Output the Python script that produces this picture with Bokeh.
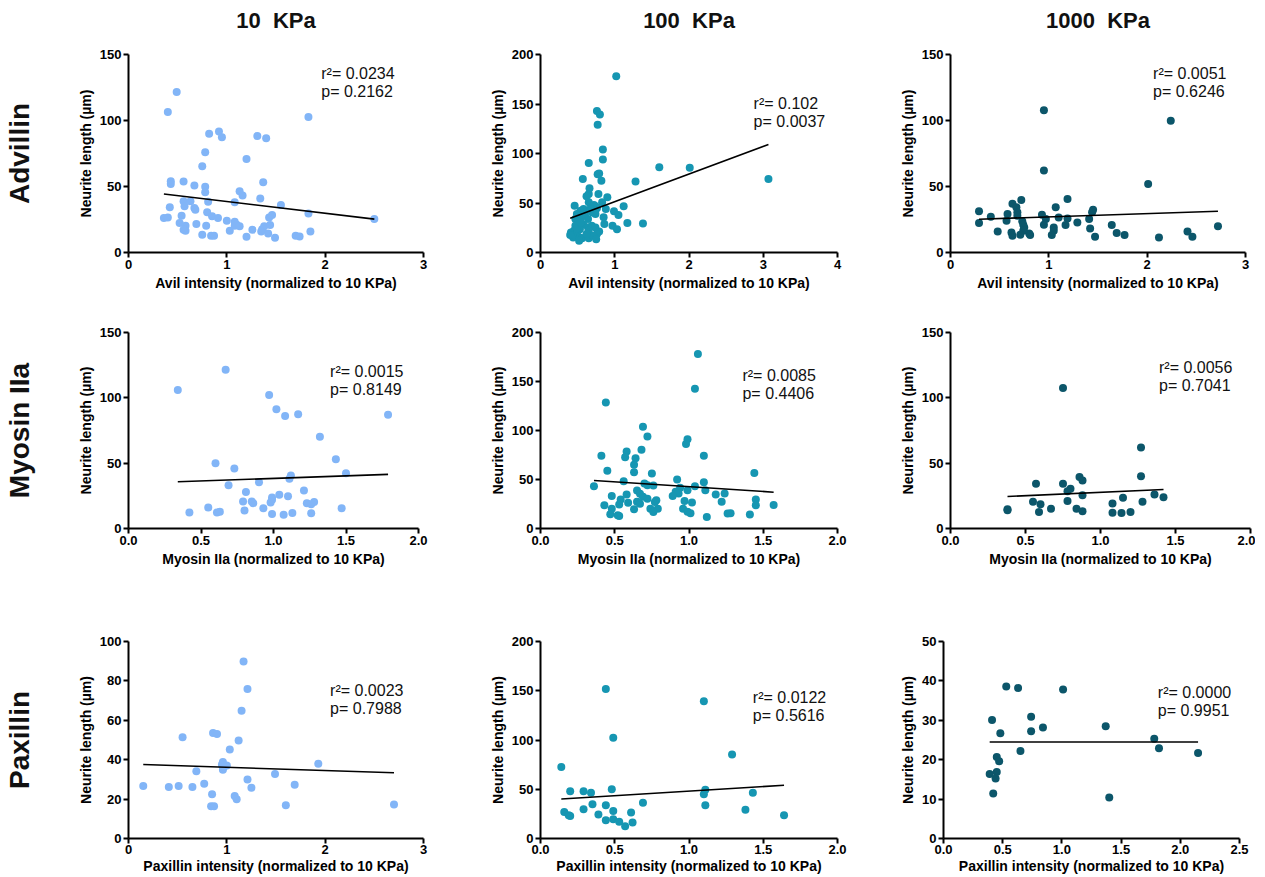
from bokeh.plotting import figure
from bokeh.layouts import column, row
from bokeh.models import Range1d, FixedTicker, PrintfTickFormatter, Label, Title
from bokeh.embed import file_html
from bokeh.resources import INLINE

FONT = "Liberation Sans"

# ---------------- data ----------------
stiffness = ["10\u00a0 KPa", "100\u00a0 KPa", "1000\u00a0 KPa"]
proteins = ["Advillin", "Myosin IIa", "Paxillin"]
x_titles = ["Avil intensity (normalized to 10 KPa)",
            "Myosin IIa (normalized to 10 KPa)",
            "Paxillin intensity (normalized to 10 KPa)"]
y_title = "Neurite length (µm)"
colors = ["#82b5f7", "#1696b2", "#0c566a"]

advillin_10 = [(0.49,121.6),(0.40,106.4),(0.92,91.7),(0.82,89.9),(0.95,87.4),(1.31,88.2),(1.40,86.6),(1.83,102.6),
    (0.78,76.0),(1.20,70.9),(0.75,65.4),(0.43,54.0),(0.43,51.9),(0.56,53.7),(0.67,50.7),(0.78,49.9),(0.78,45.6),
    (1.37,53.2),(1.13,46.4),(1.16,43.1),(1.34,41.0),(0.56,38.8),(0.63,38.8),(0.57,35.0),(0.81,38.5),(1.08,38.0),
    (1.55,36.0),(0.42,34.2),(0.67,33.7),(0.68,32.4),(0.80,30.4),(1.83,29.6),(0.54,27.9),(0.85,27.4),(0.36,26.1),
    (0.40,26.6),(0.91,26.1),(1.43,26.6),(1.46,28.4),(1.00,24.1),(1.08,23.3),(0.52,22.3),(0.69,21.5),(1.10,21.0),
    (1.08,20.3),(1.13,19.8),(0.79,20.3),(0.58,20.3),(1.38,19.8),(1.44,20.8),(1.36,17.7),(1.26,17.2),(1.03,16.5),
    (0.58,16.5),(0.56,17.2),(1.85,16.0),(1.35,16.0),(0.75,13.4),(0.84,12.7),(0.87,12.7),(1.42,14.4),(1.20,11.9),
    (1.49,11.1),(1.70,12.7),(1.74,12.2),(2.50,25.3)]
advillin_100 = [(1.02,178.0),(0.76,142.9),(0.80,139.5),(0.77,129.1),(0.84,104.1),(0.84,93.9),(0.65,90.5),(1.60,86.1),
    (2.01,85.5),(0.79,79.7),(0.77,79.1),(0.57,74.3),(3.07,74.3),(0.82,72.6),(1.28,71.6),(0.66,64.9),(0.65,59.1),
    (0.78,59.1),(0.62,56.8),(0.90,55.7),(0.65,50.7),(0.83,50.7),(0.46,47.3),(0.72,48.0),(0.74,46.6),(1.12,46.6),
    (0.76,44.6),(0.88,43.9),(0.58,43.9),(0.54,42.2),(0.99,41.6),(0.49,38.9),(0.70,40.5),(0.74,38.9),(1.05,37.8),
    (0.55,35.5),(0.47,33.8),(0.85,35.5),(0.64,33.8),(0.51,31.1),(0.86,28.7),(1.17,29.7),(1.38,29.4),(0.58,28.0),
    (0.47,27.0),(0.97,27.0),(0.69,27.0),(0.64,25.3),(0.74,25.3),(0.45,22.0),(0.53,23.6),(1.03,23.6),(0.65,22.0),
    (0.79,21.3),(0.41,20.3),(0.49,19.3),(0.76,18.6),(0.44,15.2),(0.53,15.2),(0.56,14.5),(0.65,14.5),(0.71,16.9),
    (0.52,11.8),(0.75,13.5),(0.62,18.6),(0.49,24.3),(0.54,30.4),(0.60,38.9),(0.67,43.9),(0.40,17.6)]
advillin_1000 = [(0.95,107.7),(2.24,99.8),(0.95,62.1),(2.01,51.9),(0.72,39.8),(1.19,40.5),(0.63,37.0),(0.29,31.2),
    (0.29,22.3),(0.41,27.1),(0.48,16.0),(0.58,29.1),(0.57,24.1),(0.67,34.2),(0.68,30.4),(0.68,27.9),(0.73,23.6),
    (0.74,21.0),(0.75,19.0),(0.74,16.5),(0.62,15.2),(0.63,12.7),(0.71,13.4),(0.80,14.4),(0.81,13.2),(0.93,28.6),
    (0.97,25.3),(0.95,21.0),(1.07,34.2),(1.10,26.6),(1.05,19.0),(1.05,16.5),(1.03,13.2),(1.19,25.8),(1.17,20.8),
    (1.29,22.8),(1.45,32.4),(1.44,30.4),(1.41,25.3),(1.42,18.2),(1.47,11.9),(1.64,20.8),(1.69,14.7),(1.77,13.2),
    (2.12,11.4),(2.41,16.0),(2.46,11.9),(2.72,19.8)]
myosin_10 = [(0.67,121.5),(0.34,106.0),(0.97,102.1),(1.02,91.3),(1.17,87.4),(1.08,86.1),(1.79,87.1),(1.32,70.3),
    (1.43,53.0),(0.60,49.9),(0.73,46.0),(1.50,42.2),(1.12,40.6),(1.11,38.0),(0.90,35.4),(0.69,33.1),(0.81,27.9),
    (1.21,29.0),(1.04,25.9),(1.10,24.6),(0.99,23.8),(0.99,22.0),(0.79,20.7),(0.85,20.7),(0.86,19.4),(0.98,19.9),
    (1.23,19.4),(1.28,20.2),(1.26,18.6),(0.55,16.0),(0.93,15.5),(1.47,15.5),(0.80,13.7),(0.42,12.2),(0.61,12.2),
    (0.63,12.9),(0.99,11.1),(1.07,10.6),(1.13,11.9),(1.26,11.6)]
myosin_100 = [(1.06,178.1),(1.04,142.7),(0.44,128.5),(0.69,103.9),(0.72,93.8),(0.99,91.1),(0.98,86.3),(0.68,80.3),
    (0.58,78.6),(0.41,74.2),(1.10,74.2),(0.57,72.8),(0.64,71.8),(0.63,65.1),(0.45,59.0),(0.63,57.3),(0.75,56.0),
    (1.44,56.7),(0.56,48.2),(0.92,49.9),(1.10,47.2),(0.70,45.9),(0.72,44.2),(1.04,43.2),(0.76,43.8),(0.36,43.2),
    (0.94,41.5),(0.99,39.1),(1.11,39.1),(0.65,38.8),(0.91,37.4),(0.67,35.4),(0.58,34.7),(0.93,35.8),(1.18,34.7),
    (1.24,35.8),(0.69,32.4),(0.89,33.1),(0.48,33.1),(0.72,30.4),(0.54,29.7),(1.45,29.7),(0.97,28.0),(0.78,28.7),
    (0.65,27.3),(0.59,26.3),(1.02,26.6),(0.77,27.0),(0.67,25.3),(1.22,27.3),(0.53,24.6),(0.43,23.6),(1.45,23.6),
    (1.57,23.9),(0.48,20.2),(0.79,20.2),(0.74,20.2),(0.63,19.6),(0.96,20.2),(0.76,16.9),(0.99,17.2),(1.01,15.5),
    (0.47,14.5),(0.52,13.5),(0.53,12.8),(1.12,11.8),(1.26,15.2),(1.28,15.5),(1.41,14.2)]
myosin_1000 = [(0.75,107.5),(1.27,62.0),(1.27,40.0),(0.86,39.5),(0.88,36.7),(0.57,34.2),(0.75,34.2),(0.80,30.4),
    (0.78,28.6),(0.88,25.5),(1.36,26.1),(1.42,24.0),(1.15,23.5),(0.55,20.5),(0.78,21.0),(1.28,20.5),(0.60,18.5),
    (1.08,19.2),(0.38,14.7),(0.38,13.9),(0.67,15.2),(0.84,15.2),(0.88,13.2),(0.59,12.6),(1.08,12.1),(1.14,11.9),
    (1.20,12.6)]
paxillin_10 = [(1.17,89.9),(1.21,75.9),(1.15,64.9),(0.55,51.4),(0.86,53.6),(0.90,53.1),(1.12,49.7),(1.03,45.2),
    (1.93,37.9),(0.96,38.8),(0.95,37.4),(1.00,37.1),(0.97,36.3),(0.96,34.9),(0.69,34.1),(1.49,32.7),(1.21,30.0),
    (0.77,27.8),(1.69,27.3),(0.15,26.6),(0.41,26.1),(0.51,26.6),(0.65,26.1),(1.25,25.8),(0.85,22.4),(1.08,21.6),
    (1.10,19.9),(0.84,16.4),(0.87,16.4),(1.60,16.9),(2.70,17.2)]
paxillin_100 = [(0.44,151.8),(1.10,139.3),(0.49,102.2),(1.29,85.3),(0.14,72.5),(0.48,49.9),(1.11,49.6),(0.20,47.9),
    (0.29,47.9),(0.34,46.5),(1.43,46.5),(1.10,44.9),(0.69,36.4),(0.35,34.7),(0.44,33.7),(1.11,33.7),(0.29,29.7),
    (0.49,28.0),(1.38,29.3),(0.61,26.3),(0.16,27.0),(0.39,24.3),(0.19,23.6),(0.20,22.9),(1.64,23.6),(0.49,19.6),
    (0.44,18.5),(0.53,16.9),(0.62,16.2),(0.57,12.5)]
paxillin_1000 = [(0.53,38.6),(0.63,38.2),(1.01,37.8),(0.41,30.1),(0.74,30.9),(1.37,28.5),(0.84,28.2),(0.74,27.2),
    (0.48,26.7),(1.78,25.3),(1.82,22.9),(0.65,22.2),(2.15,21.7),(0.45,20.7),(0.47,19.6),(0.39,16.4),(0.45,16.9),
    (0.44,15.2),(0.42,11.4),(1.40,10.4)]

points = [[advillin_10, advillin_100, advillin_1000],
          [myosin_10, myosin_100, myosin_1000],
          [paxillin_10, paxillin_100, paxillin_1000]]

fit_slope = [[-8.88, 27.9, 2.47], [3.93, -9.83, 5.19], [-1.65, 9.27, 0.0]]
fit_intercept = [[47.5, 23.5, 24.5], [34.4, 52.5, 22.5], [37.8, 38.8, 24.5]]
r2_text = [["0.0234", "0.102", "0.0051"], ["0.0015", "0.0085", "0.0056"], ["0.0023", "0.0122", "0.0000"]]
p_text = [["0.2162", "0.0037", "0.6246"], ["0.8149", "0.4406", "0.7041"], ["0.7988", "0.5616", "0.9951"]]

x_ticks = [[[0, 1, 2, 3], [0, 1, 2, 3, 4], [0, 1, 2, 3]],
           [[0, 0.5, 1, 1.5, 2], [0, 0.5, 1, 1.5, 2], [0, 0.5, 1, 1.5, 2]],
           [[0, 1, 2, 3], [0, 0.5, 1, 1.5, 2], [0, 0.5, 1, 1.5, 2, 2.5]]]
y_ticks = [[[0, 50, 100, 150], [0, 50, 100, 150, 200], [0, 50, 100, 150]],
           [[0, 50, 100, 150], [0, 50, 100, 150, 200], [0, 50, 100, 150]],
           [[0, 20, 40, 60, 80, 100], [0, 50, 100, 150, 200], [0, 10, 20, 30, 40, 50]]]
x_fmt = [["%d", "%d", "%d"], ["%.1f", "%.1f", "%.1f"], ["%d", "%.1f", "%.1f"]]

# annotation anchor (data units, top of first line)
ann_pos = [[(1.96, 141.7), (2.87, 158.6), (2.06, 141.7)],
           [(1.39, 126.7), (1.36, 164.5), (1.39, 130.0)],
           [(2.05, 79.2), (1.43, 152.0), (1.81, 39.3)]]

# ---------------- layout geometry (pixels) ----------------
col_geom = [[(128, 295, 57), (60, 297, 53), (60, 295, 10)],
            [(128, 290, 62), (60, 297, 53), (60, 300, 5)],
            [(128, 295, 57), (60, 297, 53), (53, 296, 16)]]
row_geom = [(54, 198, 50), (30, 196, 73), (40, 197, 34)]


def spacer(px):
    return Title(text=" ", text_font_size="1px", standoff=px)


def make_panel(r, c):
    pts = points[r][c]
    xs = [p[0] for p in pts]
    ys = [p[1] for p in pts]
    left, fw, right = col_geom[r][c]
    top, fh, bottom = row_geom[r]
    xt, yt = x_ticks[r][c], y_ticks[r][c]
    p = figure(frame_width=fw, frame_height=fh,
               min_border_left=left, min_border_right=right,
               min_border_top=top, min_border_bottom=bottom,
               x_range=Range1d(xt[0], xt[-1]), y_range=Range1d(yt[0], yt[-1]),
               output_backend="svg", toolbar_location=None)
    p.outline_line_color = None
    p.xgrid.visible = False
    p.ygrid.visible = False
    p.background_fill_color = "white"
    p.border_fill_color = "white"

    for ax in (p.xaxis[0], p.yaxis[0]):
        ax.axis_line_width = 2
        ax.axis_line_color = "black"
        ax.major_tick_line_width = 2
        ax.major_tick_line_color = "black"
        ax.major_tick_out = 5
        ax.major_tick_in = 0
        ax.minor_tick_line_color = None
        ax.major_label_text_font = FONT
        ax.major_label_text_font_style = "bold"
        ax.major_label_text_font_size = "13px"
        ax.major_label_text_color = "black"
        ax.major_label_standoff = 2
        ax.axis_label_text_font = FONT
        ax.axis_label_text_font_style = "bold"
        ax.axis_label_text_font_size = "14px"
        ax.axis_label_text_color = "black"
        ax.axis_label_standoff = 3
    p.xaxis.ticker = FixedTicker(ticks=xt)
    p.yaxis.ticker = FixedTicker(ticks=yt)
    p.xaxis.formatter = PrintfTickFormatter(format=x_fmt[r][c])
    p.yaxis.formatter = PrintfTickFormatter(format="%d")
    p.xaxis.axis_label = x_titles[r]
    p.yaxis.axis_label = y_title
    if r == 2:
        p.xaxis.major_label_standoff = 1
        p.xaxis.axis_label_standoff = 1

    p.scatter(xs, ys, size=8, fill_color=colors[c], line_color=None)

    x0, x1 = min(xs), max(xs)
    m, b = fit_slope[r][c], fit_intercept[r][c]
    p.line([x0, x1], [b + m * x0, b + m * x1], line_color="black", line_width=1.6)

    yspan = yt[-1] - yt[0]
    ax_, ay_ = ann_pos[r][c]
    dy = 18.0 * yspan / fh
    p.add_layout(Label(x=ax_, y=ay_, text="r²= " + r2_text[r][c], text_font=FONT,
                       text_font_size="16px", text_baseline="top", text_color="#111111"))
    p.add_layout(Label(x=ax_, y=ay_ - dy, text="p= " + p_text[r][c], text_font=FONT,
                       text_font_size="16px", text_baseline="top", text_color="#111111"))

    if r == 0:
        p.add_layout(spacer(19), "above")
        p.title.text = stiffness[c]
        p.title.align = "center"
        p.title.text_font = FONT
        p.title.text_font_size = "22px"
        p.title.text_font_style = "bold"
        p.title.text_color = "#111111"
        p.title.standoff = 0
    if c == 0:
        p.add_layout(spacer(37), "left")
        p.add_layout(Title(text=proteins[r], align="center", text_font=FONT,
                           text_font_size="28px", text_font_style="bold",
                           text_color="#111111", standoff=0), "left")
    return p


rows = [row(*[make_panel(r, c) for c in range(3)]) for r in range(3)]
layout = column(*rows)

open("out.html", "w").write(file_html(layout, INLINE))
